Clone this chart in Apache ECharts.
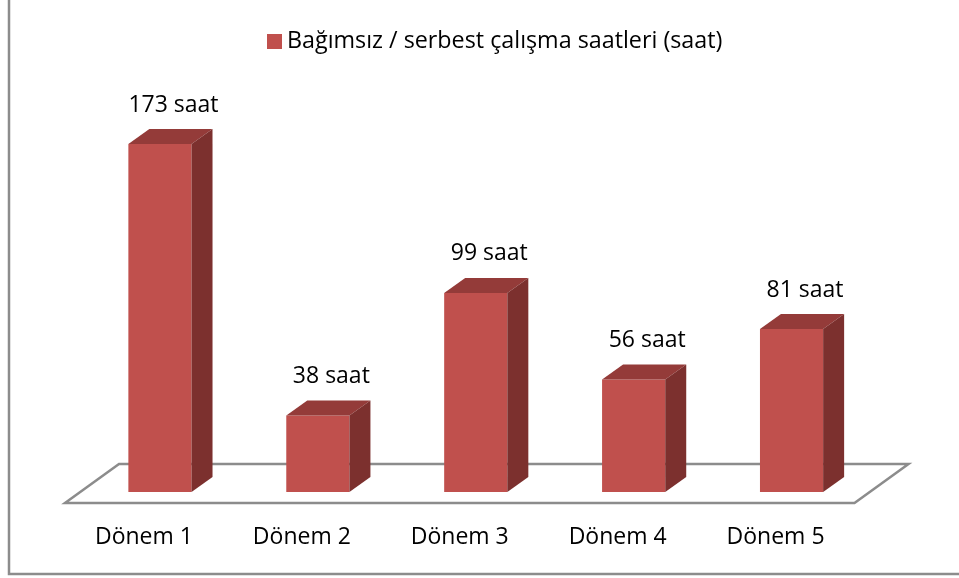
<!DOCTYPE html>
<html>
<head>
<meta charset="utf-8">
<script src="https://cdn.jsdelivr.net/npm/echarts@6/dist/echarts.min.js"></script>
<style>html,body{margin:0;padding:0;background:#fff}#c{width:959px;height:578px}</style>
</head>
<body>
<div id="c"></div>
<script>
const categories = ['Dönem 1', 'Dönem 2', 'Dönem 3', 'Dönem 4', 'Dönem 5'];
const values = [173, 38, 99, 56, 81];
const seriesName = 'Bağımsız / serbest çalışma saatleri (saat)';
const unit = ' saat';

const FONT = '"Open Sans", "Noto Sans", sans-serif';
const DX = 21, DY = -15;
const chart = echarts.init(document.getElementById('c'), null, {renderer: 'canvas'});

function renderBar(params, api) {
  const idx = api.value(0), v = api.value(1);
  const top = api.coord([idx, v]);
  const base = api.coord([idx, 0]);
  const w = api.size([1, 0])[0] * 0.4;
  const x0 = top[0] - w / 2, x1 = top[0] + w / 2, yT = top[1], yB = base[1];
  return {
    type: 'group',
    children: [
      {type: 'rect', shape: {x: x0, y: yT, width: w, height: yB - yT}, style: {fill: '#C0504D'}},
      {type: 'polygon', shape: {points: [[x0, yT], [x1, yT], [x1 + DX, yT + DY], [x0 + DX, yT + DY]]}, style: {fill: '#943B39'}},
      {type: 'polygon', shape: {points: [[x1, yT], [x1 + DX, yT + DY], [x1 + DX, yB + DY], [x1, yB]]}, style: {fill: '#7C302E'}},
      {type: 'text', style: {text: v + unit, x: top[0] + DX / 2 + 3, y: yT + DY - 24, align: 'center', verticalAlign: 'middle', font: '23px ' + FONT, fill: '#000'}}
    ]
  };
}

function renderFloor(params, api) {
  const a = api.coord([0, 0]);
  const b = api.coord([categories.length - 1, 0]);
  const band = api.size([1, 0])[0];
  const L = a[0] - band / 2, R = b[0] + band / 2, y = a[1];
  return {
    type: 'polygon',
    shape: {points: [[L - 16, y + 11], [R - 16, y + 11], [R + 38, y - 28], [L + 38, y - 28]]},
    style: {fill: '#fff', stroke: '#8C8C8C', lineWidth: 2.5}
  };
}

chart.setOption({
  animation: false,
  backgroundColor: '#fff',
  textStyle: {fontFamily: FONT},
  legend: {
    data: [{name: seriesName, icon: 'rect'}],
    left: 262, top: 25,
    itemWidth: 15, itemHeight: 15, itemGap: 6,
    textStyle: {fontSize: 23.3, color: '#000', fontFamily: FONT}
  },
  grid: {left: 81, right: 88.5, top: 130, bottom: 86},
  xAxis: {
    type: 'category', data: categories,
    axisLine: {show: false}, axisTick: {show: false},
    axisLabel: {margin: 34, fontSize: 23, color: '#000', fontFamily: FONT, padding: [0, 32, 0, 0]}
  },
  yAxis: {type: 'value', min: 0, max: 180, show: false, splitLine: {show: false}},
  graphic: [
    {type: 'polyline', shape: {points: [[9, 0], [9, 574], [959, 574]]}, style: {stroke: '#8C8C8C', lineWidth: 2.5, fill: null}, z: 100}
  ],
  series: [
    {type: 'custom', name: 'floor', renderItem: renderFloor, data: [[0, 0]], z: 1, silent: true},
    {type: 'custom', name: seriesName, renderItem: renderBar, itemStyle: {color: '#C0504D'},
     data: values.map((v, i) => [i, v]), encode: {x: 0, y: 1}, z: 2}
  ]
});
</script>
</body>
</html>
